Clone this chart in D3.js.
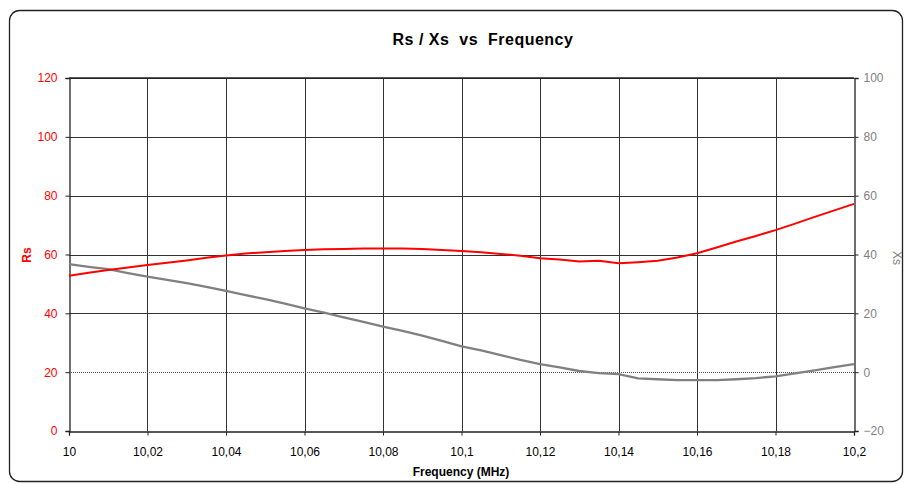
<!DOCTYPE html>
<html>
<head>
<meta charset="utf-8">
<script src="https://cdn.jsdelivr.net/npm/d3@7"></script>
<style>
  body { margin: 0; background: #fff; }
  svg { display: block; font-family: "Liberation Sans", Arial, sans-serif; }
</style>
</head>
<body>
<div id="chart"></div>
<script>
  // frequency (MHz) and the two measured series
  const freq = [10.000, 10.005, 10.010, 10.015, 10.020, 10.025, 10.030, 10.035, 10.040, 10.045,
                10.050, 10.055, 10.060, 10.065, 10.070, 10.075, 10.080, 10.085, 10.090, 10.095,
                10.100, 10.105, 10.110, 10.115, 10.120, 10.125, 10.130, 10.135, 10.140, 10.145,
                10.150, 10.155, 10.160, 10.165, 10.170, 10.175, 10.180, 10.185, 10.190, 10.195, 10.200];
  const rs = [52.8, 53.8, 54.7, 55.6, 56.4, 57.2, 58.0, 58.9, 59.7, 60.3,
              60.8, 61.2, 61.5, 61.8, 61.9, 62.0, 62.0, 62.0, 61.9, 61.5,
              61.2, 60.8, 60.2, 59.6, 58.7, 58.3, 57.6, 57.9, 57.0, 57.4,
              57.9, 59.0, 60.4, 62.4, 64.4, 66.3, 68.3, 70.5, 72.8, 75.0, 77.2];
  const xs = [36.7, 35.8, 35.0, 33.7, 32.5, 31.4, 30.3, 29.0, 27.6, 26.2,
              24.8, 23.3, 21.7, 20.2, 18.6, 17.1, 15.5, 14.0, 12.4, 10.6,
              8.8, 7.4, 5.8, 4.2, 2.7, 1.6, 0.4, -0.3, -0.7, -2.1,
              -2.4, -2.7, -2.7, -2.7, -2.4, -2.0, -1.4, -0.4, 0.6, 1.7, 2.7];

  const xTicks = [10, 10.02, 10.04, 10.06, 10.08, 10.1, 10.12, 10.14, 10.16, 10.18, 10.2];
  const rsTicks = [0, 20, 40, 60, 80, 100, 120];
  const xsTicks = [-20, 0, 20, 40, 60, 80, 100];

  const W = 905, H = 484;
  const m = { left: 69, right: 51, top: 78, bottom: 53 };

  const svg = d3.select('#chart').append('svg')
    .attr('width', W)
    .attr('height', H);

  // outer frame
  svg.append('rect')
    .attr('x', 9.5).attr('y', 10.5)
    .attr('width', 893).attr('height', 471)
    .attr('rx', 10).attr('ry', 10)
    .attr('fill', '#fff')
    .attr('stroke', '#222')
    .attr('stroke-width', 1.3);

  const x = d3.scaleLinear().domain([10, 10.2]).range([m.left, W - m.right]);
  const yL = d3.scaleLinear().domain([0, 120]).range([H - m.bottom, m.top]);
  const yR = d3.scaleLinear().domain([-20, 100]).range([H - m.bottom, m.top]);

  const comma = d3.formatLocale({ decimal: ',', thousands: '.', grouping: [3], currency: ['', ''] });
  const fmt = comma.format('~g');

  // gridlines
  const grid = svg.append('g').attr('stroke', '#333').attr('stroke-width', 1);
  grid.selectAll('.vg').data(xTicks.slice(1, -1)).enter().append('line')
    .attr('x1', d => Math.round(x(d)) + 0.5).attr('x2', d => Math.round(x(d)) + 0.5)
    .attr('y1', yL(120)).attr('y2', yL(0));
  grid.selectAll('.hg').data(rsTicks.filter(d => d >= 40)).enter().append('line')
    .attr('x1', x(10)).attr('x2', x(10.2))
    .attr('y1', d => Math.round(yL(d)) + 0.5).attr('y2', d => Math.round(yL(d)) + 0.5);

  // dotted zero line of Xs
  svg.append('line')
    .attr('x1', x(10)).attr('x2', x(10.2))
    .attr('y1', Math.round(yR(0)) + 0.5).attr('y2', Math.round(yR(0)) + 0.5)
    .attr('stroke', '#555').attr('stroke-width', 1)
    .attr('stroke-dasharray', '1,1');

  // axes
  const xAxis = svg.append('g')
    .attr('transform', `translate(0,${Math.round(yL(0)) + 0.5})`)
    .call(d3.axisBottom(x).tickValues(xTicks).tickFormat(fmt).tickSize(4).tickPadding(12));
  xAxis.selectAll('text').attr('fill', '#000').style('font-size', '12px');

  const lAxis = svg.append('g')
    .attr('transform', `translate(${Math.round(x(10)) + 0.5},0)`)
    .call(d3.axisLeft(yL).tickValues(rsTicks).tickSize(4).tickPadding(8));
  lAxis.selectAll('text').attr('fill', '#ff0000').style('font-size', '12px');

  const rAxis = svg.append('g')
    .attr('transform', `translate(${Math.round(x(10.2)) + 0.5},0)`)
    .call(d3.axisRight(yR).tickValues(xsTicks).tickSize(4).tickPadding(5));
  rAxis.selectAll('text').attr('fill', '#808080').style('font-size', '12px');

  [xAxis, lAxis, rAxis].forEach(a => {
    a.select('.domain').attr('stroke', '#222').attr('stroke-width', 1.3);
    a.selectAll('.tick line').attr('stroke', '#222');
  });

  // top border of plot
  svg.append('line')
    .attr('x1', x(10)).attr('x2', x(10.2))
    .attr('y1', yL(120)).attr('y2', yL(120))
    .attr('stroke', '#222').attr('stroke-width', 1.3);

  // series
  const pts = freq.map((f, i) => ({ f, rs: rs[i], xs: xs[i] }));
  svg.append('path')
    .datum(pts)
    .attr('fill', 'none')
    .attr('stroke', '#808080')
    .attr('stroke-width', 2.3)
    .attr('d', d3.line().x(d => x(d.f)).y(d => yR(d.xs)));
  svg.append('path')
    .datum(pts)
    .attr('fill', 'none')
    .attr('stroke', '#ff0000')
    .attr('stroke-width', 2)
    .attr('d', d3.line().x(d => x(d.f)).y(d => yL(d.rs)));

  // titles
  svg.append('text')
    .attr('x', 483).attr('y', 45)
    .attr('text-anchor', 'middle')
    .style('font-size', '16px').style('font-weight', 'bold')
    .style('white-space', 'pre')
    .style('letter-spacing', '0.5px')
    .text('Rs / Xs  vs  Frequency');

  svg.append('text')
    .attr('x', 461).attr('y', 476)
    .attr('text-anchor', 'middle')
    .style('font-size', '12px').style('font-weight', 'bold')
    .text('Frequency (MHz)');

  svg.append('text')
    .attr('transform', 'translate(31,255) rotate(-90)')
    .attr('text-anchor', 'middle')
    .attr('fill', '#ff0000')
    .style('font-size', '12px').style('font-weight', 'bold')
    .text('Rs');

  svg.append('text')
    .attr('transform', 'translate(893,258) rotate(90)')
    .attr('text-anchor', 'middle')
    .attr('fill', '#808080')
    .style('font-size', '12px')
    .text('Xs');
</script>
</body>
</html>
